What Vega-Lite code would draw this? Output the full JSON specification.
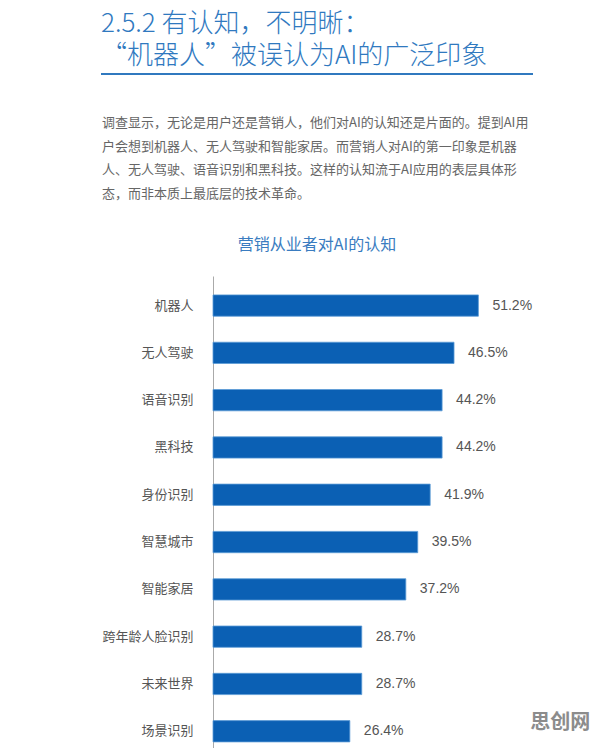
{
  "$schema": "https://vega.github.io/schema/vega-lite/v6.json",
  "background": "white",
  "padding": {"left": 101, "top": 11, "right": 0, "bottom": 0},
  "autosize": {"type": "pad"},
  "config": {
    "font": "Noto Sans CJK SC",
    "view": {"stroke": null}
  },
  "title": {
    "text": ["2.5.2 有认知，不明晰：", "“机器人”被误认为AI的广泛印象"],
    "anchor": "start",
    "frame": "bounds",
    "baseline": "top",
    "fontSize": 26,
    "lineHeight": 32,
    "fontWeight": 300,
    "font": "Noto Sans CJK SC",
    "color": "#3079bf",
    "offset": 4
  },
  "spacing": 35,
  "vconcat": [
    {
      "width": 430,
      "height": 0.01,
      "view": {"stroke": "#3079bf", "strokeWidth": 2},
      "data": {"values": []},
      "mark": {"type": "text"},
      "encoding": {},
      "title": {
        "text": [
          "调查显示，无论是用户还是营销人，他们对AI的认知还是片面的。提到AI用",
          "户会想到机器人、无人驾驶和智能家居。而营销人对AI的第一印象是机器",
          "人、无人驾驶、语音识别和黑科技。这样的认知流于AI应用的表层具体形",
          "态，而非本质上最底层的技术革命。"
        ],
        "orient": "bottom",
        "anchor": "start",
        "frame": "group",
        "baseline": "top",
        "fontSize": 13,
        "lineHeight": 23.5,
        "fontWeight": "normal",
        "color": "#666666",
        "offset": 43
      }
    },
    {
      "width": 430,
      "height": {"step": 47.3},
      "title": {
        "text": "营销从业者对AI的认知",
        "anchor": "middle",
        "frame": "group",
        "fontSize": 16,
        "fontWeight": "normal",
        "color": "#3a7cc0",
        "offset": 23
      },
      "layer": [
        {
          "data": {"values": [
            {"item": "机器人", "share": 0.512},
            {"item": "无人驾驶", "share": 0.465},
            {"item": "语音识别", "share": 0.442},
            {"item": "黑科技", "share": 0.442},
            {"item": "身份识别", "share": 0.419},
            {"item": "智慧城市", "share": 0.395},
            {"item": "智能家居", "share": 0.372},
            {"item": "跨年龄人脸识别", "share": 0.287},
            {"item": "未来世界", "share": 0.287},
            {"item": "场景识别", "share": 0.264}
          ]},
          "layer": [
            {
              "mark": {"type": "bar", "color": "#0b60b4", "stroke": "#5b9bd5", "strokeWidth": 0.8},
              "encoding": {
                "y": {
                  "field": "item", "type": "nominal", "sort": null,
                  "scale": {"paddingInner": 0.55, "paddingOuter": 0.4},
                  "axis": {
                    "title": null, "ticks": false, "domain": true, "domainColor": "#aaaaaa",
                    "offset": -111,
                    "labelFontSize": 13, "labelColor": "#555555", "labelPadding": 20,
                    "labelFont": "Noto Sans CJK SC"
                  }
                },
                "x": {
                  "field": "share", "type": "quantitative",
                  "scale": {"domain": [0, 0.6], "range": [111, 422]},
                  "axis": null
                }
              }
            },
            {
              "mark": {"type": "text", "align": "left", "dx": 14, "fontSize": 14, "color": "#555555", "font": "Liberation Sans"},
              "encoding": {
                "y": {"field": "item", "type": "nominal", "sort": null},
                "x": {"field": "share", "type": "quantitative"},
                "text": {"field": "share", "type": "quantitative", "format": ".1%"}
              }
            }
          ]
        },
        {
          "data": {"values": [{"mark": "思创网", "item": "场景识别", "share": 0.67}]},
          "mark": {"type": "text", "fontSize": 20, "fontWeight": "bold", "color": "#8c8c8c", "dy": -8, "clip": false},
          "encoding": {
            "y": {"field": "item", "type": "nominal", "sort": null},
            "x": {"field": "share", "type": "quantitative"},
            "text": {"field": "mark"}
          }
        }
      ]
    }
  ]
}
